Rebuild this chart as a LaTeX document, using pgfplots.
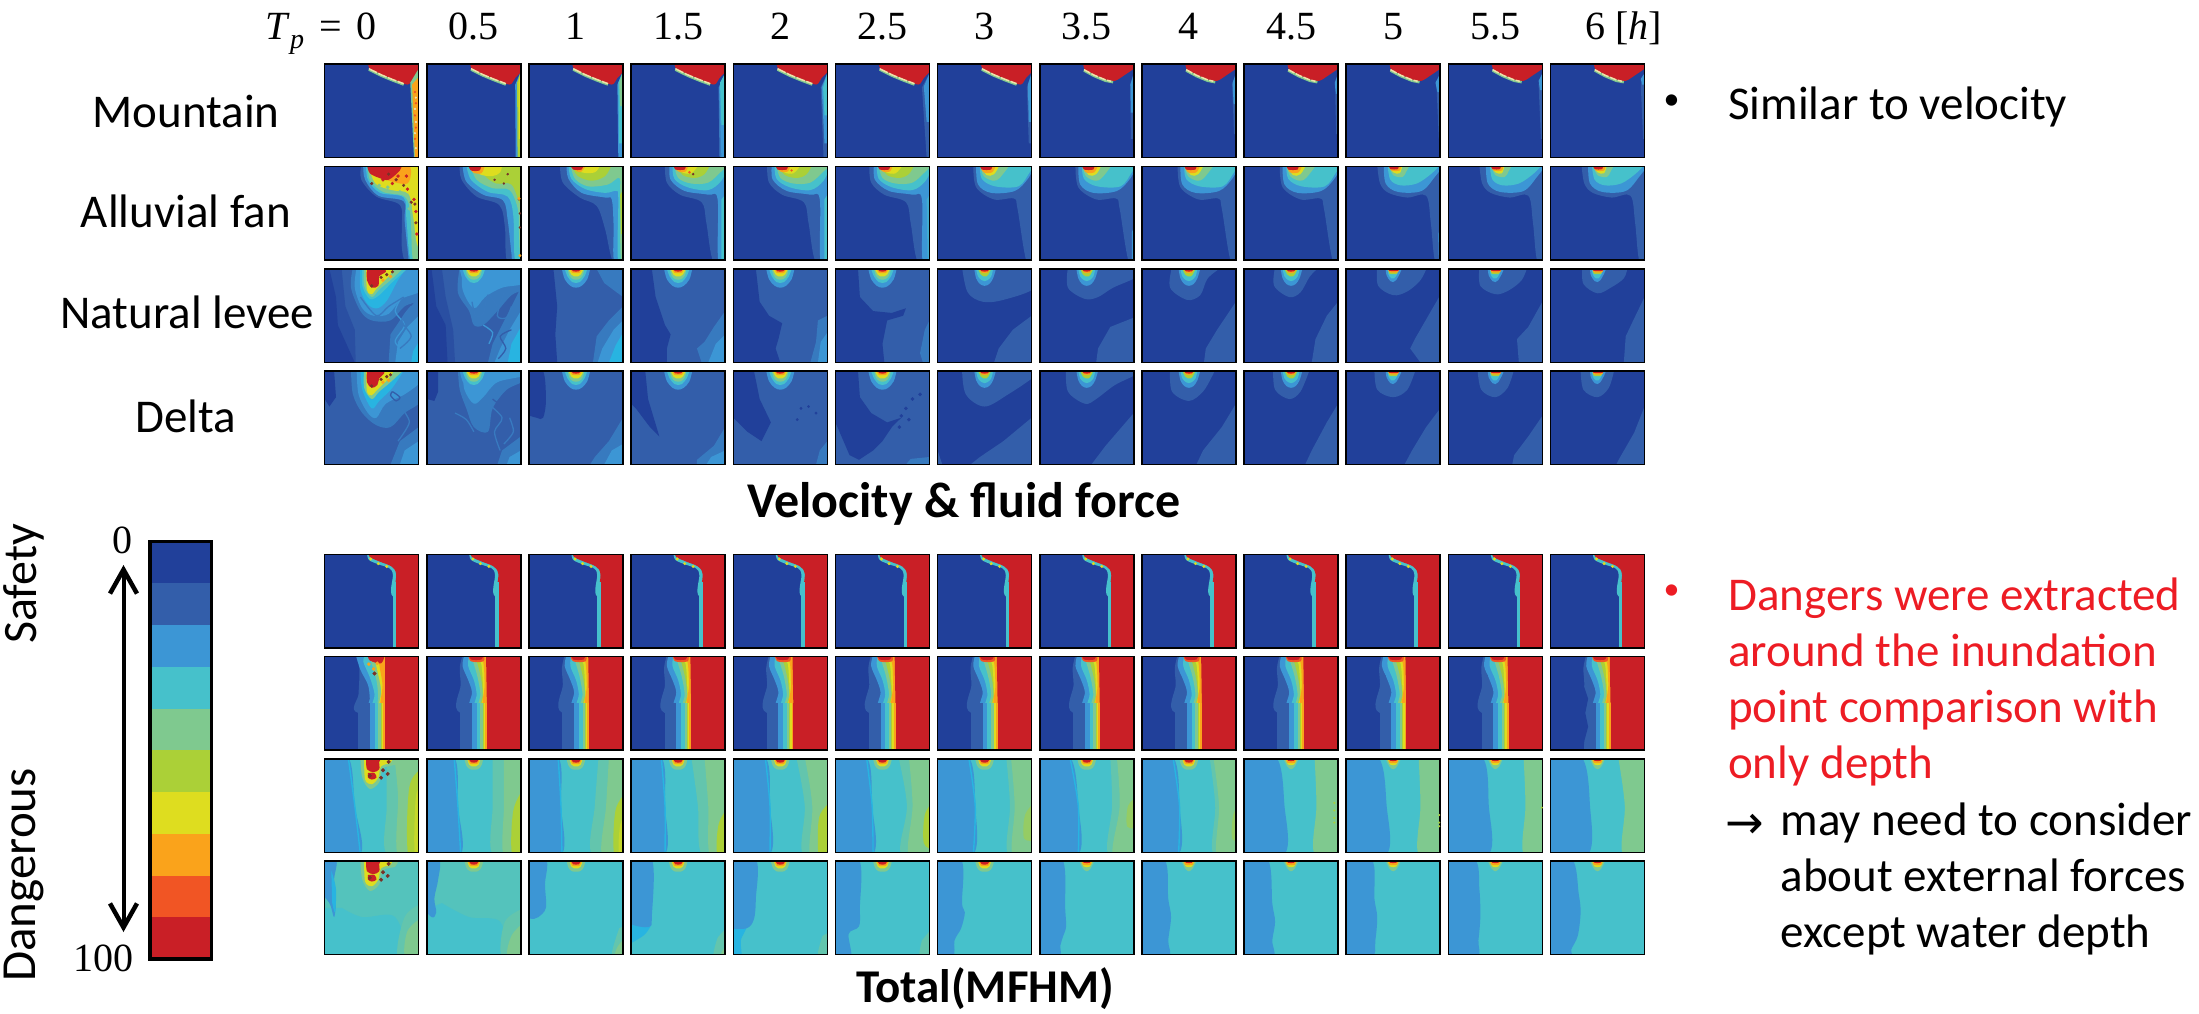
\documentclass[border=0pt]{standalone}
\usepackage{fontspec}
\usepackage{pgfplots}
\pgfplotsset{compat=1.18}
\usetikzlibrary{arrows.meta}
\setmainfont{Carlito}
\newfontfamily\mf{Liberation Serif}
\newfontfamily\djv{DejaVu Sans}
\definecolor{c1}{RGB}{33,64,154}
\definecolor{c2}{RGB}{51,94,170}
\definecolor{c3}{RGB}{60,150,213}
\definecolor{c4}{RGB}{70,193,203}
\definecolor{c5}{RGB}{127,201,143}
\definecolor{c6}{RGB}{171,208,55}
\definecolor{c7}{RGB}{222,221,31}
\definecolor{c8}{RGB}{250,163,27}
\definecolor{c9}{RGB}{241,85,36}
\definecolor{c10}{RGB}{201,31,38}
\definecolor{cb}{RGB}{40,180,225}
\definecolor{cpale}{RGB}{240,225,170}
\definecolor{dk}{RGB}{120,50,40}
\colorlet{c1b}{c1!50!c2}
\colorlet{c23}{c2!50!c3}
\colorlet{c34}{c3!50!c4}
\colorlet{c45}{c4!50!c5}
\colorlet{c4g}{c4!75!c5}
\colorlet{c56}{c5!50!c6}
\colorlet{c67}{c6!50!c7}
\colorlet{c78}{c7!50!c8}
\pgfplotsset{panel/.style={scale only axis,width=94pt,height=93.5pt,xmin=0,xmax=100,ymin=0,ymax=100,y dir=reverse,
  xtick=\empty,ytick=\empty,axis on top,axis line style={line width=1.5pt,black},anchor=north west}}
\newcommand\poly[2]{\addplot[fill=#1,draw=none,forget plot] coordinates {#2} --cycle;}
\newcommand\sm[2]{\addplot[fill=#1,draw=none,smooth,tension=0.55,forget plot] coordinates {#2} --cycle;}
\newcommand\full[1]{\poly{#1}{(0,0)(100,0)(100,100)(0,100)}}
\newcommand\speck[3]{\addplot[only marks,color=#1,mark=*,mark size=#2pt,mark options={solid,draw=#1,fill=#1},forget plot] coordinates {#3};}
\newcommand\swirl[3]{\addplot[#1,line width=#2pt,smooth,forget plot] coordinates {#3};}
\newcommand\panel[3]{\begin{axis}[panel,at={({(324.7+#1*102.15)*1pt},#2pt)}] #3 \end{axis}}
% spots, rows 3-4
\newcommand\spotA{\sm{c3}{(35,0)(38,11)(44,18)(50,20)(56,18)(62,11)(65,0)}
\sm{c4}{(38,0)(41,8)(46,14)(50,15)(54,14)(59,8)(62,0)}
\sm{c5}{(41,0)(43,7)(47,11)(53,11)(57,7)(59,0)}
\sm{c7}{(42,0)(45,6)(48,8)(52,8)(55,6)(58,0)}
\sm{c8}{(44,0)(46,4)(54,4)(56,0)}
\sm{c10}{(45,0)(47,2.5)(53,2.5)(55,0)}}
\newcommand\spotB{\sm{c3}{(39,0)(41,10)(45,16)(50,18)(55,16)(59,10)(62,0)}
\sm{c4}{(41,0)(43,8)(47,12)(50,13)(53,12)(57,8)(59,0)}
\sm{c6}{(43,0)(46,6)(49,8)(52,8)(54,6)(57,0)}
\sm{c8}{(45,0)(47,4)(53,4)(55,0)}
\sm{c10}{(45,0)(47,2.5)(53,2.5)(55,0)}}
\newcommand\spotC{\sm{c3}{(42,0)(43,7)(47,13)(50,14)(53,12)(57,5)(59,0)}
\sm{c4}{(44,0)(45,6)(48,10)(51,10)(54,6)(56,0)}
\sm{c6}{(45,0)(46,5)(54,5)(55,0)}
\sm{c8}{(45,0)(46,3.5)(55,3.5)(56,0)}
\sm{c10}{(45,0)(46,2)(55,2)(56,0)}}
% spots, rows 7-8
\newcommand\spotT{\sm{c5}{(40,0)(42,7)(46,11)(54,11)(58,7)(60,0)}
\sm{c7}{(43,0)(45,6)(48,8)(52,8)(55,6)(57,0)}
\sm{c8}{(44,0)(46,5)(54,5)(56,0)}
\sm{c10}{(45,0)(47,3.5)(53,3.5)(55,0)}}
\newcommand\spotU{\sm{c5}{(42,0)(46,8)(50,11)(54,8)(58,0)}
\sm{c7}{(44,0)(47,6)(53,6)(56,0)}
\sm{c8}{(45,0)(46,4)(54,4)(55,0)}
\sm{c10}{(46,0)(47,2)(53,2)(54,0)}}
\newcommand\spotZ{\sm{c5}{(38,0)(40,20)(48,32)(58,25)(62,10)(75,6)(78,0)}
\sm{c7}{(42,0)(43,22)(50,27)(57,20)(60,8)(70,4)(72,0)}
\sm{c10}{(44,0)(45,11)(52,14)(58,11)(58,3)(60,0)}
\sm{c10}{(46,15)(53,15)(55,20)(50,22)(46,20)}
\speck{dk}{1.8}{(48,18)(68,3)(62,12)(67,16)(60,20)}}
% row 1
\newcommand\mtnA{\full{c1}\sm{c10}{(46,-2)(48,5)(60,11)(72,16)(88,22)(94,15)(104,4)(104,-2)}
\addplot[c5,line width=2.4pt,forget plot] coordinates {(47,6)(60,12.5)(72,17.5)(84,22)};
\addplot[cpale,line width=1.5pt,dash pattern=on 9pt off 1.5pt,forget plot] coordinates {(47,5)(60,11.5)(72,16.5)(84,21)};}
\newcommand\mtnB{\full{c1}\sm{c10}{(46,-2)(48,6)(58,12)(70,17)(80,18)(90,12)(104,2)(104,-2)}
\addplot[c5,line width=2.4pt,forget plot] coordinates {(47,7)(58,13)(70,18)(78,19.5)};
\addplot[cpale,line width=1.5pt,dash pattern=on 7pt off 1.5pt,forget plot] coordinates {(47,6)(58,12)(70,17)(76,18.5)};}
% row 2
\newcommand\fanM{\full{c1}\sm{c2}{(36,-2)(38,17)(52,30)(75,38)(80,60)(88,103)(108,108)(108,-8)}
\sm{c3}{(41,-2)(42,14)(57,26)(82,30)(92,35)(93,103)(108,108)(108,-8)}
\sm{c4}{(44,-2)(46,13)(60,22)(82,25)(96,15)(104,-2)}
\sm{c5}{(46,-2)(50,12)(64,18)(82,17)(96,5)(104,-2)}
\sm{c6}{(47,-2)(55,9)(68,12)(78,8)(84,-2)}
\sm{c7}{(47,-2)(54,6)(64,7)(72,-2)}
\sm{c8}{(45,-2)(50,5)(58,5)(61,-2)}
\sm{c10}{(45,-2)(47,3)(57,3)(58,-2)}}
\newcommand\fanN{\full{c1}\sm{c2}{(38,-2)(41,22)(60,35)(81,34)(85,45)(95,103)(108,108)(108,-8)}
\sm{c3}{(41,-2)(43,19)(57,28)(82,26)(96,13)(104,-2)}
\sm{c4}{(45,-2)(47,13)(61,21)(86,21)(98,6)(104,-2)}
\sm{c5}{(45,-2)(49,10)(59,15)(66,12)(77,-2)}
\sm{c7}{(46,-2)(52,9)(60,8)(66,-2)}
\sm{c8}{(45,-2)(49,6)(58,6)(62,-2)}
\sm{c10}{(45,-2)(47,3)(57,3)(58,-2)}}
\newcommand\fanO{\full{c1}\sm{c2}{(33,-2)(36,18)(45,28)(65,33)(85,31)(90,60)(95,103)(108,108)(108,-8)}
\sm{c3}{(40,-2)(42,18)(55,27)(80,26)(95,10)(104,-2)}
\sm{c4}{(44,-2)(47,14)(58,20)(75,18)(90,8)(100,-2)}
\sm{c5}{(45,-2)(50,9)(60,11)(64,5)(68,-2)}
\sm{c7}{(45,-2)(50,6)(57,7)(60,-2)}
\sm{c8}{(45,-2)(48,4)(57,4)(58,-2)}
\sm{c10}{(45,-2)(47,2.5)(55,2.5)(56,-2)}}
% row 5, 6
\newcommand\rowE{\full{c1}\sm{c4}{(45,-2)(47,6)(58,11)(69,15)(72.5,22)(72.5,45)(104,45)(104,-2)}
\sm{c10}{(46,-2)(48,3)(59,8)(71,13)(76,21)(76.3,45)(104,45)(104,-2)}
\poly{c4}{(72.5,30)(100,30)(100,100)(72.5,100)}
\poly{c10}{(76.3,30)(100,30)(100,100)(76.3,100)}
\speck{c7}{1.3}{(49,5)(57,10)(66,13)}}
\newcommand\bandsF{\poly{c2}{(35.5,50)(100,50)(100,100)(35.5,100)}
\poly{c3}{(48,50)(100,50)(100,100)(48,100)}
\poly{c4}{(53,50)(100,50)(100,100)(53,100)}
\poly{c5}{(57,50)(100,50)(100,100)(57,100)}
\poly{c6}{(59.5,50)(100,50)(100,100)(59.5,100)}
\poly{c7}{(60.5,50)(100,50)(100,100)(60.5,100)}
\poly{c8}{(62,50)(100,50)(100,100)(62,100)}
\poly{c10}{(64,50)(100,50)(100,100)(64,100)}}
\newcommand\rowF{\full{c1}\sm{c2}{(38,-2)(35,12)(36,30)(35.5,60)(104,60)(104,-2)}
\sm{c3}{(40,-2)(38,10)(44,25)(48,38)(48,60)(104,60)(104,-2)}
\sm{c4}{(45,-2)(44,10)(50,25)(53,40)(53,60)(104,60)(104,-2)}
\sm{c5}{(47,-2)(50,8)(54,22)(57,40)(57,60)(104,60)(104,-2)}
\sm{c6}{(50,-2)(54,8)(58,25)(59.5,40)(59.5,60)(104,60)(104,-2)}
\sm{c7}{(52,-2)(58,8)(60,40)(60.5,60)(104,60)(104,-2)}
\sm{c8}{(54,-2)(60,6)(61.5,30)(62,60)(104,60)(104,-2)}
\poly{c10}{(63,0)(63.5,30)(64,60)(100,60)(100,0)}
\bandsF
\sm{c9}{(44,-2)(47,5)(60,5)(61,-2)}
\sm{c10}{(45,-2)(47,3)(58,3)(60,-2)}}
\newcommand\rowFz{\full{c1}\sm{c2}{(36,-2)(37,18)(36,40)(35.5,60)(104,60)(104,-2)}
\sm{c3}{(33,-2)(38,14)(46,30)(48,45)(48,60)(104,60)(104,-2)}
\sm{c4}{(44,-2)(41,5)(48,22)(53,40)(53,60)(104,60)(104,-2)}
\sm{c5}{(47,-2)(55,25)(57,45)(57,60)(104,60)(104,-2)}
\sm{c7}{(55,-2)(54,5)(60,35)(60.5,60)(104,60)(104,-2)}
\sm{c8}{(58,-2)(58,8)(61.5,30)(62,60)(104,60)(104,-2)}
\poly{c10}{(64,0)(64,60)(100,60)(100,0)}
\bandsF
\sm{c10}{(46,-2)(48,4)(60,7)(64,-2)}
\speck{c8}{1.6}{(47,8)(56,7)(52,13)}
\speck{dk}{1.8}{(53,18)}}
% row 7
\newcommand\levg[6]{\full{c4}\sm{c3}{(-8,-8)(#1,-2)(#2,50)(#3,102)(-8,108)}
\addplot[cb,line width=1.4pt,smooth,forget plot] coordinates {(#1,-2)(#2,50)(#3,102)};
\sm{c45}{(#4,-2)(#5,50)(#6,102)(108,108)(108,-8)}}
\newcommand\lev[6]{\full{c4}\sm{c3}{(-8,-8)(#1,-2)(#2,50)(#3,102)(-8,108)}
\sm{c5}{(#4,-2)(#5,50)(#6,102)(108,108)(108,-8)}}
\begin{document}
\begin{tikzpicture}[x=1pt,y=1pt]
\useasboundingbox (0,0) rectangle (2199,1013);
\def\rA{949}\def\rB{846.3}\def\rC{744}\def\rD{642}\def\rE{458.7}\def\rF{356.3}\def\rG{254}\def\rH{152}
% ---------- row 1 Mountain
\panel{0}{\rA}{\mtnA\poly{c5}{(91,20)(100,5)(100,100)(95,100)}\poly{c8}{(93,22)(99,15)(99.5,100)(96,100)}\speck{c9}{0.9}{(96,30)(97,42)(96,55)(97,68)(96,80)}\speck{cpale}{0.9}{(97,36)(96,48)(97,62)(96,74)(97,90)}}
\panel{1}{\rA}{\mtnA\poly{c3}{(94,22)(100,8)(100,100)(94.5,100)}\poly{c6}{(96,20)(100,8)(100,100)(96.5,100)}\poly{c7}{(97.5,20)(100,8)(100,80)(98,80)}}
\panel{2}{\rA}{\mtnA\poly{c3}{(94,22)(100,8)(100,100)(95,100)}\poly{c4}{(95,20)(100,8)(100,85)(96,85)}\poly{c5}{(96,20)(100,8)(100,45)(97,45)}}
\panel{3}{\rA}{\mtnA\poly{c23}{(93,25)(100,10)(100,100)(94,100)}\poly{c3}{(93.5,25)(100,10)(100,100)(96,100)}\poly{c4}{(94.5,20)(100,10)(100,65)(96,65)}}
\panel{4}{\rA}{\mtnA\poly{c2}{(93,25)(100,10)(100,100)(96,100)}\poly{c3}{(94,25)(100,10)(100,85)(97,85)}\poly{c4}{(95.5,25)(100,10)(100,55)(97,55)}}
\panel{5}{\rA}{\mtnA\poly{c2}{(92,25)(100,10)(100,100)(97,100)}\poly{c3}{(94,24)(100,10)(100,62)(97,62)}}
\panel{6}{\rA}{\mtnA\poly{c2}{(95,25)(100,10)(100,85)(97,85)}\poly{c3}{(96,22)(100,10)(100,62)(97,62)}}
\panel{7}{\rA}{\mtnB\poly{c2}{(96,22)(100,10)(100,80)(97,80)}\poly{c3}{(96.5,22)(100,10)(100,52)(97,52)}}
\panel{8}{\rA}{\mtnB\poly{c2}{(96,22)(100,10)(100,75)(98,75)}\poly{c3}{(96.5,20)(100,10)(100,43)(97.5,43)}}
\panel{9}{\rA}{\mtnB\poly{c3}{(96.5,20)(100,10)(100,32)(97.5,32)}\poly{c2}{(97,32)(100,32)(100,75)(98,75)}}
\panel{10}{\rA}{\mtnB\poly{c2}{(96,22)(100,10)(100,80)(98.5,80)}\poly{c3}{(95,20)(100,10)(100,30)(97,30)}}
\panel{11}{\rA}{\mtnB\poly{c2}{(96,22)(100,10)(100,80)(98.5,80)}\poly{c3}{(96,18)(100,10)(100,28)(97.5,28)}}
\panel{12}{\rA}{\mtnB\poly{c2}{(96,22)(100,10)(100,80)(98.5,80)}\poly{c3}{(96,16)(100,10)(100,22)(97.5,22)}}
% ---------- row 2 Alluvial fan
\panel{0}{\rB}{\full{c1}\sm{c2}{(39,-2)(39,14)(55,32)(80,41)(82,64)(82,86)(87,103)(108,108)(108,-8)}
\sm{c3}{(41,-2)(43,14)(57,31)(84,37)(85,57)(89,96)(90,103)(108,108)(108,-8)}
\sm{c4}{(44,-2)(46,14)(59,28)(84,33)(87,57)(92,103)(108,108)(108,-8)}
\sm{c5}{(46,-2)(48,14)(62,27)(85,32)(91,50)(93,93)(96,103)(108,108)(108,-8)}
\sm{c7}{(46,-2)(54,18)(71,25)(89,29)(94,53)(98,82)(104,85)(104,-2)}
\sm{c8}{(50,-2)(56,10)(72,16)(88,18)(92,5)(90,-2)}
\sm{c10}{(45,-2)(48,7)(58,12)(68,14)(80,4)(82,-2)}
\speck{c10}{1.5}{(62,14)(78,10)(87,10)(72,18)(88,24)(95,35)(97,48)(98,72)}
\speck{dk}{1.4}{(50,18)(68,8)(76,14)(84,20)(92,38)(96,40)(97,60)}
\speck{c5}{1.6}{(58,20)(67,22)(80,27)(90,45)}}
\panel{1}{\rB}{\full{c1}\sm{c2}{(35,-2)(37,14)(53,32)(77,41)(83,64)(86,103)(108,108)(108,-8)}
\sm{c3}{(38,-2)(42,16)(60,30)(81,36)(86,57)(90,93)(92,103)(108,108)(108,-8)}
\sm{c4}{(42,-2)(47,14)(65,27)(86,32)(92,53)(93,93)(96,103)(108,108)(108,-8)}
\sm{c5}{(46,-2)(53,14)(70,23)(88,25)(97,46)(98,70)(100,103)(108,108)(108,-8)}
\sm{c6}{(56,-2)(62,10)(74,18)(90,19)(100,40)(104,20)(104,-2)}
\sm{c7}{(47,-2)(56,8)(70,10)(78,6)(80,-2)}
\sm{c8}{(44,-2)(49,6)(58,7)(62,-2)}
\sm{c10}{(44,-2)(47,4)(56,4)(58,-2)}
\speck{dk}{1}{(72,14)(82,18)(98,35)(99,65)(99,50)(86,8)}
\speck{c8}{1.3}{(99,95)(98,34)}}
\panel{2}{\rB}{\full{c1}\sm{c2}{(33,-2)(36,17)(54,33)(72,42)(81,67)(90,103)(108,108)(108,-8)}
\sm{c3}{(40,-2)(42,13)(56,28)(81,33)(88,35)(90,63)(91,103)(108,108)(108,-8)}
\sm{c4}{(42,-2)(45,13)(60,24)(81,28)(93,26)(95,35)(95,103)(108,108)(108,-8)}
\sm{c5}{(44,-2)(49,13)(63,21)(84,19)(96,12)(97,30)(98,103)(108,108)(108,-8)}
\sm{c6}{(45,-2)(52,10)(67,15)(81,10)(88,-2)}\poly{c6}{(97,30)(100,25)(100,72)(98,72)}
\sm{c7}{(45,-2)(56,6)(70,6)(76,-2)}
\sm{c8}{(44,-2)(51,5)(56,5)(61,-2)}
\sm{c10}{(44,-2)(47,3)(56,3)(58,-2)}}
\panel{3}{\rB}{\fanM\poly{c4}{(96,35)(100,30)(100,100)(96,100)}\speck{dk}{1}{(66,8)}\speck{c9}{1.1}{(62,6)}}
\panel{4}{\rB}{\fanM\poly{c4}{(97,35)(100,30)(100,100)(97,100)}\speck{c9}{0.9}{(62,4)}}
\panel{5}{\rB}{\fanM\poly{c34}{(97,35)(100,30)(100,100)(98,100)}}
\panel{6}{\rB}{\fanN}
\panel{7}{\rB}{\fanN\poly{c3}{(98,70)(100,65)(100,100)(98,100)}}
\panel{8}{\rB}{\fanN}
\panel{9}{\rB}{\fanN}
\panel{10}{\rB}{\fanO\poly{c3}{(98,72)(100,65)(100,98)(98.5,98)}}
\panel{11}{\rB}{\fanO}
\panel{12}{\rB}{\fanO}
% ---------- row 3 Natural levee
\panel{0}{\rC}{\full{c2}\poly{c1b}{(0,0)(18,0)(22,40)(32,65)(33,100)(0,100)}\poly{c1}{(0,0)(5,0)(12,30)(14,60)(32,100)(0,100)}
\sm{c23}{(30,-2)(28,20)(38,45)(50,55)(70,55)(85,40)(104,30)(104,-2)}
\poly{c23}{(100,30)(82,52)(70,70)(68,100)(100,100)}
\sm{c3}{(34,-2)(32,20)(40,42)(52,50)(68,48)(82,32)(104,22)(104,-2)}
\poly{c3}{(100,50)(88,62)(78,78)(75,100)(100,100)}
\poly{cb}{(100,78)(94,88)(92,100)(100,100)}
\sm{cb}{(38,-2)(38,22)(46,38)(56,42)(66,34)(78,12)(88,-2)}
\swirl{c3}{1.3}{(85,25)(75,45)(85,60)(75,78)(90,92)}\swirl{c23}{1.3}{(92,40)(82,55)(92,72)(80,85)}
\swirl{c23}{1.3}{(38,30)(55,50)(68,40)(84,30)}
\sm{c4}{(40,-2)(40,18)(48,32)(58,28)(72,14)(90,-2)}
\sm{c5}{(42,-2)(42,18)(50,30)(58,22)(70,12)(85,-2)}\sm{c7}{(44,-2)(45,22)(50,27)(56,20)(68,8)(75,-2)}
\sm{c10}{(45,-2)(45,12)(50,20)(57,18)(58,8)(65,3)(64,-2)}\speck{dk}{1.4}{(50,18)(60,9)(66,6)(72,3)}\speck{c8}{1.5}{(62,12)(70,8)}}
\panel{1}{\rC}{\full{c2}\poly{c1b}{(0,0)(16,0)(20,30)(28,65)(30,100)(0,100)}\poly{c1}{(0,0)(5,0)(10,40)(20,60)(22,100)(0,100)}
\sm{c23}{(35,-2)(33,25)(45,45)(50,60)(60,60)(75,45)(90,28)(104,20)(104,-2)}
\poly{c23}{(100,20)(85,50)(70,80)(65,100)(100,100)}\poly{c3}{(100,45)(88,65)(78,85)(72,100)(100,100)}\poly{cb}{(100,62)(90,80)(86,100)(100,100)}
\sm{c3}{(38,-2)(38,22)(50,42)(62,30)(80,20)(104,15)(104,-2)}
\swirl{c23}{1.3}{(48,35)(52,50)(60,48)(65,28)(75,40)}\swirl{c23}{1.3}{(82,25)(75,50)(85,52)(90,40)}\swirl{c2}{1.3}{(90,65)(78,72)(84,85)(76,96)}\swirl{c3}{1.3}{(60,60)(70,68)(66,80)}
\spotA}
\panel{2}{\rC}{\full{c2}\poly{c1}{(0,0)(26,0)(30,40)(28,70)(30,100)(0,100)}\poly{c23}{(100,40)(85,55)(72,72)(68,100)(100,100)}\poly{c3}{(100,55)(90,65)(78,85)(73,100)(100,100)}\poly{cb}{(100,68)(92,82)(85,100)(100,100)}
\poly{c23}{(72,0)(80,15)(100,30)(100,0)}\spotA}
\panel{3}{\rC}{\full{c2}\poly{c1}{(0,0)(22,0)(26,30)(36,60)(42,70)(38,85)(38,100)(0,100)}\poly{c23}{(100,45)(88,62)(78,78)(70,85)(75,100)(100,100)}\poly{c3}{(100,70)(90,80)(82,100)(100,100)}\spotA}
\panel{4}{\rC}{\full{c2}\poly{c1}{(0,0)(24,0)(28,35)(38,50)(52,58)(48,75)(45,85)(50,100)(0,100)}\poly{c23}{(100,50)(90,55)(88,78)(82,100)(100,100)}\poly{c3}{(100,68)(93,78)(90,100)(100,100)}\spotA}
\panel{5}{\rC}{\full{c2}\poly{c1}{(0,0)(24,0)(26,30)(40,45)(60,47)(75,42)(72,50)(55,55)(50,80)(52,100)(0,100)}\poly{c23}{(100,55)(95,65)(90,90)(93,100)(100,100)}\spotA}
\panel{6}{\rC}{\full{c1}\sm{c2}{(26,-2)(32,25)(48,35)(70,33)(104,20)(104,-2)}\poly{c2}{(100,50)(80,65)(65,85)(60,100)(100,100)}\spotB}
\panel{7}{\rC}{\full{c1}\sm{c2}{(30,-2)(30,20)(48,32)(62,30)(78,20)(104,8)(104,-2)}\poly{c2}{(100,52)(75,62)(62,85)(60,100)(100,100)}\spotB}
\panel{8}{\rC}{\full{c1}\sm{c2}{(32,-2)(30,20)(48,33)(62,28)(70,10)(85,-2)}\poly{c2}{(100,35)(80,65)(68,85)(66,100)(100,100)}\spotB}
\panel{9}{\rC}{\full{c1}\sm{c2}{(33,-2)(32,18)(48,30)(60,25)(70,8)(80,-2)}\poly{c2}{(100,35)(88,50)(76,75)(72,100)(100,100)}\spotB}
\panel{10}{\rC}{\full{c1}\sm{c2}{(33,-2)(34,18)(50,28)(65,24)(79,12)(86,-2)}\poly{c2}{(100,28)(89,47)(73,75)(68,85)(79,100)(100,100)}\spotC}
\panel{11}{\rC}{\full{c1}\sm{c2}{(33,-2)(34,18)(50,27)(64,23)(78,12)(84,-2)}\poly{c2}{(100,35)(85,62)(73,75)(75,100)(100,100)}\spotC}
\panel{12}{\rC}{\full{c1}\sm{c2}{(34,-2)(35,16)(50,26)(64,20)(78,10)(82,-2)}\poly{c2}{(100,30)(88,55)(80,72)(78,100)(100,100)}\spotC}
% ---------- row 4 Delta
\panel{0}{\rD}{\full{c2}\poly{c1}{(0,0)(10,0)(12,28)(5,38)(0,30)}
\sm{c23}{(28,-2)(30,25)(40,45)(55,58)(70,60)(85,45)(104,30)(104,-2)}\poly{c23}{(100,60)(80,75)(70,100)(100,100)}
\sm{c3}{(34,-2)(36,25)(46,45)(55,50)(65,35)(85,25)(104,10)(104,-2)}\poly{c3}{(100,75)(85,85)(80,100)(100,100)}
\sm{cb}{(38,-2)(40,20)(50,40)(58,32)(72,18)(85,-2)}
\swirl{c2}{1.3}{(72,22)(80,28)(76,32)(70,26)(72,22)}\swirl{c23}{1.3}{(82,40)(90,55)(78,75)}
\sm{c5}{(42,-2)(42,18)(50,30)(58,22)(70,12)(85,-2)}\sm{c7}{(44,-2)(45,22)(50,26)(56,20)(68,8)(75,-2)}
\sm{c10}{(45,-2)(45,12)(50,18)(56,15)(58,8)(63,3)(64,-2)}\speck{dk}{1.4}{(50,16)(60,9)(66,6)(70,4)}\speck{c8}{1.5}{(62,12)(68,10)}}
\panel{1}{\rD}{\full{c2}\poly{c1}{(0,0)(12,0)(12,22)(8,32)(0,30)}
\sm{c23}{(33,-2)(35,20)(42,40)(50,60)(65,65)(70,40)(85,20)(104,10)(104,-2)}\poly{c23}{(100,70)(80,85)(75,100)(100,100)}
\sm{c3}{(38,-2)(40,20)(50,35)(60,28)(75,12)(104,5)(104,-2)}\poly{c3}{(100,85)(88,92)(85,100)(100,100)}
\swirl{c23}{1.3}{(65,35)(80,50)(72,65)(78,85)}\swirl{c2}{1.3}{(70,30)(85,40)(92,30)}\swirl{c23}{1.3}{(88,50)(92,65)(82,78)}\swirl{c23}{1.3}{(30,45)(42,52)(50,65)}
\spotA}
\panel{2}{\rD}{\full{c2}\sm{c1}{(-8,-8)(14,-2)(18,30)(15,50)(8,50)(-8,45)}\poly{c23}{(100,50)(85,75)(70,92)(65,100)(100,100)}\poly{c3}{(100,78)(88,85)(80,100)(100,100)}\spotA}
\panel{3}{\rD}{\full{c2}\poly{c1}{(0,0)(15,0)(18,30)(30,70)(20,60)(5,40)(0,35)}\poly{c23}{(100,60)(88,80)(70,95)(70,100)(100,100)}\poly{c3}{(100,85)(85,92)(80,100)(100,100)}\spotA}
\panel{4}{\rD}{\full{c2}\poly{c1}{(0,0)(22,0)(28,30)(40,55)(35,65)(30,75)(15,65)(0,50)}\speck{c1}{1.2}{(72,40)(80,38)(68,52)(88,45)}\poly{c23}{(100,75)(92,85)(88,100)(100,100)}\spotA}
\panel{5}{\rD}{\full{c2}\poly{c1}{(0,0)(24,0)(26,28)(38,45)(55,55)(70,50)(60,60)(50,75)(40,85)(25,95)(15,90)(0,55)}\speck{c1}{1.6}{(75,40)(82,30)(90,25)(70,48)(68,60)(78,52)}\poly{c23}{(100,92)(80,94)(75,100)(100,100)}\spotA}
\panel{6}{\rD}{\full{c1}\sm{c2}{(26,-2)(30,25)(50,38)(75,25)(104,5)(104,-2)}\poly{c2}{(100,50)(70,75)(45,92)(35,100)(100,100)}\poly{c2}{(0,85)(5,100)(0,100)}\spotB}
\panel{7}{\rD}{\full{c1}\sm{c2}{(28,-2)(30,22)(48,35)(60,30)(80,15)(104,3)(104,-2)}\poly{c2}{(100,45)(70,80)(55,100)(100,100)}\spotB}
\panel{8}{\rD}{\full{c1}\sm{c2}{(30,-2)(32,22)(50,32)(65,22)(75,5)(78,-2)}\poly{c2}{(100,35)(85,60)(65,85)(58,100)(100,100)}\spotB}
\panel{9}{\rD}{\full{c1}\sm{c2}{(31,-2)(33,20)(48,30)(60,22)(70,-2)}\poly{c2}{(100,35)(88,55)(72,85)(65,100)(100,100)}\spotB}
\panel{10}{\rD}{\full{c1}\sm{c2}{(30,-2)(33,20)(50,28)(65,20)(74,-2)}\poly{c2}{(100,40)(85,60)(70,85)(62,100)(100,100)}\spotC}
\panel{11}{\rD}{\full{c1}\sm{c2}{(31,-2)(35,20)(50,28)(63,18)(70,-2)}\poly{c2}{(100,48)(85,70)(70,90)(68,100)(100,100)}\spotC}
\panel{12}{\rD}{\full{c1}\sm{c2}{(32,-2)(35,20)(50,28)(62,18)(68,-2)}\poly{c2}{(100,38)(89,66)(73,94)(70,100)(100,100)}\spotC}
% ---------- row 5
\foreach \k in {0,...,12}{\panel{\k}{\rE}{\rowE}}
% ---------- row 6
\panel{0}{\rF}{\rowFz}
\foreach \k in {1,...,9}{\panel{\k}{\rF}{\rowF}}
\panel{10}{\rF}{\rowF\poly{c2}{(38,15)(38,100)(42,100)(42,20)}}
\panel{11}{\rF}{\rowF\poly{c2}{(38,15)(38,100)(42,100)(42,20)}}
\panel{12}{\rF}{\rowF\poly{c1}{(35,30)(40,45)(37,60)(40,75)(36,90)(35,100)(30,100)(30,30)}}
% ---------- row 7
\panel{0}{\rG}{\levg{25}{32}{38}{66}{66}{66}\sm{c5}{(74,-2)(78,40)(78,104)(108,108)(108,-8)}\sm{c6}{(104,10)(90,30)(89,104)(108,108)}\sm{c67}{(104,30)(97,40)(96,104)(108,108)}\spotZ}
\panel{1}{\rG}{\levg{29}{33}{36}{70}{70}{70}\sm{c5}{(82,-2)(82,50)(82,104)(108,108)(108,-8)}\sm{c6}{(104,30)(92,55)(91,104)(108,108)}\spotT}
\panel{2}{\rG}{\levg{31}{34}{35}{74}{70}{67}\sm{c5}{(85,-2)(82,50)(78,104)(108,108)(108,-8)}\sm{c6}{(104,35)(92,55)(91,104)(108,108)}\sm{c67}{(104,60)(97,70)(96,104)(108,108)}\spotT}
\panel{3}{\rG}{\levg{32}{36}{36}{64}{71}{75}\sm{c5}{(78,-2)(82,50)(84,104)(108,108)(108,-8)}\sm{c6}{(104,50)(93,70)(92,104)(108,108)}\spotT}
\panel{4}{\rG}{\levg{34}{39}{39}{67}{76}{74}\sm{c5}{(76,-2)(84,50)(82,104)(108,108)(108,-8)}\sm{c6}{(104,45)(92,60)(90,85)(92,104)(108,108)}\spotT}
\panel{5}{\rG}{\levg{33}{39}{40}{67}{76}{70}\sm{c5}{(78,-2)(82,50)(78,104)(108,108)(108,-8)}\sm{c6}{(104,45)(95,60)(94,90)(104,97)}\spotT}
\panel{6}{\rG}{\levg{33}{40}{38}{73}{77}{75}\sm{c5}{(78,-2)(82,50)(80,104)(108,108)(108,-8)}\sm{c56}{(104,45)(93,60)(92,85)(104,87)}\spotT}
\panel{7}{\rG}{\levg{32}{41}{41}{75}{77}{73}\sm{c5}{(82,-2)(85,50)(78,104)(108,108)(108,-8)}\sm{c56}{(104,40)(94,50)(93,72)(104,74)}\spotT}
\panel{8}{\rG}{\levg{33}{40}{39}{72}{78}{76}\sm{c5}{(76,-2)(82,50)(80,104)(108,108)(108,-8)}\sm{c56}{(104,48)(97,60)(96,85)(104,87)}\spotT}
\panel{9}{\rG}{\lev{34}{43}{43}{75}{77}{75}\speck{c6}{0.8}{(96,47)(96,55)(96,63)(96,68)}\spotU}
\panel{10}{\rG}{\lev{34}{43}{43}{77}{79}{77}\speck{c6}{0.8}{(99,60)(99,68)(99,72)}\spotU}
\panel{11}{\rG}{\lev{36}{43}{43}{80}{82}{80}\speck{c6}{0.8}{(99.5,52)}\spotU}
\panel{12}{\rG}{\lev{33}{42}{40}{72}{79}{77}\poly{c67}{(99,38)(100,38)(100,95)(99,95)}\spotU}
% ---------- row 8
\panel{0}{\rH}{\full{c4g}\sm{c4}{(18,50)(40,60)(75,60)(80,104)(-8,108)(-8,50)}\sm{c45}{(104,45)(85,60)(78,104)(108,108)}\sm{c5}{(104,60)(88,75)(86,104)(108,108)}\sm{c3}{(-8,-8)(12,-2)(10,20)(12,40)(10,60)(5,45)(-8,30)}\sm{cb}{(7,10)(12,30)(11,55)(8,45)}\spotZ}
\panel{1}{\rH}{\full{c4g}\sm{c4}{(16,45)(45,60)(78,65)(80,104)(-8,108)(-8,55)}\sm{c45}{(104,50)(83,65)(80,104)(108,108)}\sm{c5}{(104,65)(90,80)(86,104)(108,108)}\sm{c3}{(-8,-8)(13,-2)(12,20)(8,40)(10,55)(5,60)(-8,45)}\spotT}
\panel{2}{\rH}{\full{c4}\sm{c45}{(96,72)(88,104)(108,108)(104,68)}\sm{c5}{(104,80)(94,92)(92,104)(108,108)}\sm{c3}{(-8,-8)(18,-2)(17,25)(18,50)(10,60)(5,62)(-8,60)}\spotT}
\panel{3}{\rH}{\full{c4}\sm{c45}{(92,82)(88,104)(108,108)(104,68)}\sm{c5}{(104,85)(94,104)(108,108)}\sm{cb}{(-8,60)(12,68)(21,68)(15,78)(5,85)(-8,92)}\sm{c3}{(-8,-8)(22,-2)(22,60)(20,70)(8,70)(-8,65)}\spotT}
\panel{4}{\rH}{\full{c4}\sm{c45}{(95,80)(90,104)(108,108)(104,75)}\sm{cb}{(-8,68)(14,68)(8,85)(8,104)(-8,108)}\sm{c3}{(-8,-8)(24,-2)(24,40)(22,62)(14,72)(-8,72)}\spotT}
\panel{5}{\rH}{\full{c4}\sm{c45}{(92,85)(90,104)(108,108)(104,70)}\sm{c3}{(-8,-8)(25,-2)(26,50)(25,70)(14,78)(16,104)(-8,108)}\spotT}
\panel{6}{\rH}{\full{c4}\sm{c3}{(-8,-8)(25,-2)(26,45)(29,55)(25,72)(18,85)(16,104)(-8,108)}\spotT}
\panel{7}{\rH}{\full{c4}\sm{c3}{(-8,-8)(24,-2)(27,50)(28,70)(25,80)(22,90)(20,104)(-8,108)}\spotU}
\panel{8}{\rH}{\full{c4}\sm{c3}{(-8,-8)(24,-2)(28,40)(31,60)(28,85)(28,104)(-8,108)}\spotU}
\panel{9}{\rH}{\full{c4}\sm{c3}{(-8,-8)(25,-2)(30,45)(33,65)(30,85)(30,104)(-8,108)}\spotU}
\panel{10}{\rH}{\full{c4}\sm{c3}{(-8,-8)(27,-2)(30,40)(33,60)(31,85)(27,104)(-8,108)}\spotU}
\panel{11}{\rH}{\full{c4}\sm{c3}{(-8,-8)(28,-2)(33,30)(34,60)(32,85)(30,104)(-8,108)}\spotU}
\panel{12}{\rH}{\full{c4}\sm{c3}{(-8,-8)(23,-2)(30,35)(32,55)(29,80)(22,95)(22,104)(-8,108)}\spotU}
% ---------- colour bar
\begin{axis}[scale only axis,width=61.5pt,height=417.5pt,at={(149.75pt,471.5pt)},anchor=north west,xmin=0,xmax=1,ymin=0,ymax=100,y dir=reverse,xtick=\empty,ytick=\empty,axis on top,axis line style={line width=3.5pt,black}]
\poly{c1}{(0,0)(1,0)(1,10)(0,10)}
\poly{c2}{(0,10)(1,10)(1,20)(0,20)}
\poly{c3}{(0,20)(1,20)(1,30)(0,30)}
\poly{c4}{(0,30)(1,30)(1,40)(0,40)}
\poly{c5}{(0,40)(1,40)(1,50)(0,50)}
\poly{c6}{(0,50)(1,50)(1,60)(0,60)}
\poly{c7}{(0,60)(1,60)(1,70)(0,70)}
\poly{c8}{(0,70)(1,70)(1,80)(0,80)}
\poly{c9}{(0,80)(1,80)(1,90)(0,90)}
\poly{c10}{(0,90)(1,90)(1,100)(0,100)}
\end{axis}
\draw[line width=4pt,{Straight Barb[length=24pt,width=27pt,line width=4.5pt]}-{Straight Barb[length=24pt,width=27pt,line width=4.5pt]}] (123.5,448) -- (123.5,81);
% ---------- text
\def\ff{\fontsize{47}{56}\selectfont}
\tikzset{tx/.style={inner sep=0pt,font=\ff}}
\node[tx,anchor=base] at (186,885.7) {Mountain};
\node[tx,anchor=base] at (186,785) {Alluvial fan};
\node[tx,anchor=base] at (187,684) {Natural levee};
\node[tx,anchor=base] at (186,580) {Delta};
\node[inner sep=0pt,font=\fontsize{50}{60}\selectfont\bfseries,anchor=base] at (964,495) {Velocity \& fluid force};
\node[inner sep=0pt,font=\fontsize{47}{56}\selectfont\bfseries,anchor=base] at (985,11) {Total(MFHM)};
\node[inner sep=0pt,font=\fontsize{48}{60}\selectfont,anchor=center,rotate=90] at (24,429) {Safety};
\node[inner sep=0pt,font=\fontsize{49}{60}\selectfont,anchor=center,rotate=90] at (24,138) {Dangerous};
\node[inner sep=0pt,font=\fontsize{40}{48}\selectfont\mf,anchor=center] at (122,473) {0};
\node[inner sep=0pt,font=\fontsize{40}{48}\selectfont\mf,anchor=east] at (134,55) {100};
\foreach \l/\x in {0.5/473.8,1/575.9,1.5/678.1,2/780.2,2.5/882.4,3/984.5,3.5/1086.7,4/1188.8,4.5/1291,5/1393.2,5.5/1495.3}{\node[inner sep=0pt,font=\fontsize{40}{48}\selectfont\mf,anchor=base] at (\x,973) {\l};}
\node[inner sep=0pt,font=\fontsize{40}{48}\selectfont\mf,anchor=base east] at (377,973) {\textit{T}\raisebox{-9pt}{\fontsize{28}{28}\selectfont\itshape p}\hspace{15pt}=\hspace{15pt}0};
\node[inner sep=0pt,font=\fontsize{40}{48}\selectfont\mf,anchor=base west] at (1585,973) {6\ [\textit{h}]};
\node[inner sep=0pt,font=\fontsize{32}{40}\selectfont,anchor=center] at (1671.6,911) {•};
\node[tx,anchor=base west] at (1728,893) {Similar to velocity};
\definecolor{rd}{RGB}{237,28,36}
\node[inner sep=0pt,font=\fontsize{32}{40}\selectfont,anchor=center,text=rd] at (1671.6,421) {•};
\node[tx,anchor=base west,text=rd] at (1728,403) {Dangers were extracted};
\node[tx,anchor=base west,text=rd] at (1728,347) {around the inundation};
\node[tx,anchor=base west,text=rd] at (1728,291) {point comparison with};
\node[tx,anchor=base west,text=rd] at (1728,235) {only depth};
\node[inner sep=0pt,font=\fontsize{46}{56}\selectfont\djv,anchor=base west] at (1725,175) {→};
\node[tx,anchor=base west] at (1780.5,178) {may need to consider};
\node[tx,anchor=base west] at (1780.5,122) {about external forces};
\node[tx,anchor=base west] at (1780.5,66) {except water depth};
\end{tikzpicture}
\end{document}
